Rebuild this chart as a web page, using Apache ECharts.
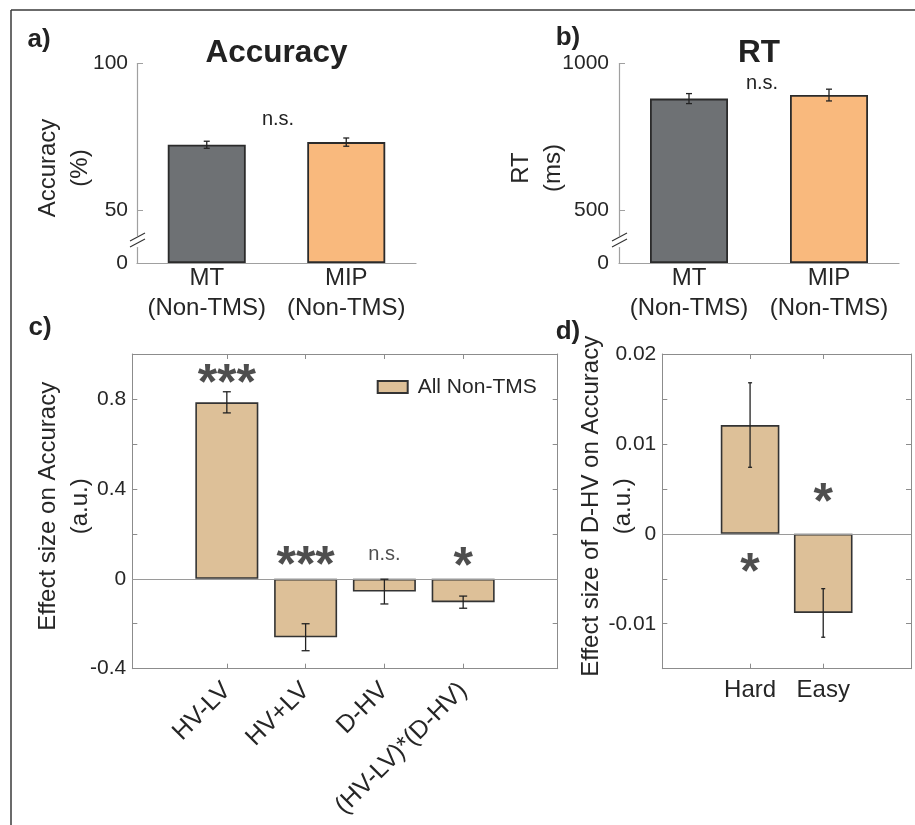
<!DOCTYPE html>
<html>
<head>
<meta charset="utf-8">
<script src="https://cdn.jsdelivr.net/npm/echarts@6.0.0/dist/echarts.min.js"></script>
<style>
  html, body { margin: 0; padding: 0; background: #fff; }
  #main { width: 915px; height: 825px; }
</style>
</head>
<body>
<div id="main"></div>
<script>
// data
var groupNames = ["MT\n(Non-TMS)", "MIP\n(Non-TMS)"];
var accMeans = [72.2, 73.1];
var accErrors = [1.2, 1.4];
var accTicks = [0, 50, 100];
var rtMeans = [879, 891];
var rtErrors = [17, 20];
var rtTicks = [0, 500, 1000];

var effectNames = ["HV-LV", "HV+LV", "D-HV", "(HV-LV)*(D-HV)"];
var effectMeans = [0.785, -0.26, -0.057, -0.104];
var effectErrors = [0.047, 0.06, 0.055, 0.027];
var effectSig = ["***", "***", "n.s.", "*"];
var effectSigY = [0.859, 0.05, 0.11, 0.046];
var effectTicks = [-0.4, 0, 0.4, 0.8];

var diffNames = ["Hard", "Easy"];
var diffMeans = [0.0121, -0.0088];
var diffErrors = [0.0047, 0.0027];
var diffSig = ["*", "*"];
var diffSigY = [-0.0045, 0.0033];
var diffTicks = [-0.01, 0, 0.01, 0.02];

var FONT = "'Liberation Sans', Arial, sans-serif";
var TXT = "#262626";
var groupColors = ["#6e7174", "#f9b97d"];
var TAN = "#ddc098";

var myChart = echarts.init(document.getElementById("main"));

function errorBars(capHalf) {
  return function (params, api) {
    var x = api.value(0), m = api.value(1), e = api.value(2);
    var top = api.coord([x, m + e]);
    var bot = api.coord([x, m - e]);
    var st = { stroke: "#222", lineWidth: 1.3 };
    return {
      type: "group",
      children: [
        { type: "line", shape: { x1: top[0], y1: top[1], x2: bot[0], y2: bot[1] }, style: st },
        { type: "line", shape: { x1: top[0] - capHalf, y1: top[1], x2: top[0] + capHalf, y2: top[1] }, style: st },
        { type: "line", shape: { x1: bot[0] - capHalf, y1: bot[1], x2: bot[0] + capHalf, y2: bot[1] }, style: st }
      ]
    };
  };
}

function pick(list) {
  return function (v) {
    for (var i = 0; i < list.length; i++) {
      if (Math.abs(list[i] - v) < 1e-9) return String(list[i]);
    }
    return "";
  };
}

// small double slash on the broken axes (a and b)
function breakMark(x) {
  return [
    { type: "rect", shape: { x: x - 3, y: 237.5, width: 6, height: 6 }, style: { fill: "#fff" }, z: 100 },
    { type: "line", shape: { x1: x - 7, y1: 241, x2: x + 8, y2: 233 }, style: { stroke: "#333", lineWidth: 1.1 }, z: 101 },
    { type: "line", shape: { x1: x - 7, y1: 247, x2: x + 8, y2: 239 }, style: { stroke: "#333", lineWidth: 1.1 }, z: 101 }
  ];
}

function label(x, y, text, size, weight) {
  return {
    type: "text", x: x, y: y, z: 100,
    style: { text: text, fontSize: size, fontWeight: weight || "normal", fontFamily: FONT, fill: "#222", align: "center", verticalAlign: "middle" }
  };
}

var grayAxis = { lineStyle: { color: "#a0a0a0", width: 1.2 } };
var boxLine = { onZero: false, lineStyle: { color: "#8c8c8c", width: 1 } };

function topBarAxis(grid, ticks, nameText, gap, breakCfg) {
  return {
    type: "value", gridIndex: grid, min: ticks[0], max: ticks[2],
    breaks: [breakCfg], breakArea: { show: false },
    axisLine: { show: true, lineStyle: grayAxis.lineStyle },
    axisTick: { show: true, inside: true, length: 6, customValues: ticks, lineStyle: { color: "#a0a0a0" } },
    axisLabel: { customValues: ticks, formatter: function (v) { return String(v); }, fontSize: 21, color: TXT, margin: gap.margin },
    splitLine: { show: false },
    name: nameText, nameLocation: "middle", nameRotate: 90, nameGap: gap.name, nameMoveOverlap: false,
    nameTextStyle: { fontSize: 24, lineHeight: 32, color: TXT, padding: [0, 10, 0, 0] }
  };
}

function boxY(grid, min, max, step, pos, labels, nameText, nameGap) {
  var ax = {
    type: "value", gridIndex: grid, position: pos, min: min, max: max, interval: step,
    axisLine: { show: true, onZero: false, lineStyle: boxLine.lineStyle },
    axisTick: { show: true, inside: true, length: 5, lineStyle: { color: "#8c8c8c" } },
    axisLabel: { show: !!labels, formatter: labels ? pick(labels) : "", fontSize: 21, color: TXT, margin: 6 },
    splitLine: { show: false }
  };
  if (nameText) {
    ax.name = nameText;
    ax.nameLocation = "middle";
    ax.nameRotate = 90;
    ax.nameGap = nameGap;
    ax.nameMoveOverlap = false;
    ax.nameTextStyle = { fontSize: 24, lineHeight: 32, color: TXT, padding: [0, 0, 0, 10] };
  }
  return ax;
}

function boxX(grid, min, max, names, pos, lab) {
  var idx = names.map(function (n, i) { return i; });
  return {
    type: "value", gridIndex: grid, position: pos, min: min, max: max,
    axisLine: { show: true, onZero: false, lineStyle: boxLine.lineStyle },
    axisTick: { show: true, inside: true, length: 5, customValues: idx, lineStyle: { color: "#8c8c8c" } },
    axisLabel: lab ? Object.assign({
      customValues: idx, color: TXT, fontSize: 24,
      formatter: function (v) { return names[Math.round(v)]; }
    }, lab) : { show: false },
    splitLine: { show: false }
  };
}

function sigSeries(xi, yi, texts, ys) {
  return {
    type: "scatter", xAxisIndex: xi, yAxisIndex: yi, symbolSize: 0, silent: true, z: 20,
    data: texts.map(function (t, i) {
      var ns = t === "n.s.";
      return {
        value: [i, ys[i]],
        label: {
          show: true, position: "inside", formatter: t, color: "#222",
          fontSize: ns ? 20 : 50, fontWeight: ns ? "normal" : "bold", fontFamily: FONT
        }
      };
    })
  };
}

var zeroLine = {
  silent: true, symbol: "none", label: { show: false },
  lineStyle: { color: "#9a9a9a", width: 1, type: "solid" },
  data: [{ yAxis: 0 }]
};

var groupLabel = { fontSize: 24, lineHeight: 30, color: TXT, margin: 0, interval: 0 };

var option = {
  animation: false,
  backgroundColor: "#fff",
  textStyle: { fontFamily: FONT },
  grid: [
    { left: 137, top: 63, width: 279, height: 200 },
    { left: 619, top: 63, width: 280, height: 200 },
    { left: 132.3, top: 354, width: 425.4, height: 314.7 },
    { left: 662.3, top: 354, width: 248.7, height: 314.7 }
  ],
  legend: {
    data: ["All Non-TMS"], left: 376.7, top: 375, padding: 0,
    itemWidth: 30, itemHeight: 12, icon: "rect", selectedMode: false,
    textStyle: { fontSize: 21, color: TXT, lineHeight: 24, padding: [0, 0, 0, 5] }
  },
  xAxis: [
    {
      type: "category", gridIndex: 0, data: groupNames,
      axisLine: grayAxis, axisTick: { show: false }, axisLabel: groupLabel
    },
    {
      type: "category", gridIndex: 1, data: groupNames,
      axisLine: grayAxis, axisTick: { show: false }, axisLabel: groupLabel
    },
    boxX(2, -1.2, 4.2, effectNames, "bottom", { rotate: 45, margin: 18, fontSize: 25 }),
    boxX(2, -1.2, 4.2, effectNames, "top", null),
    boxX(3, -1.2, 2.2, diffNames, "bottom", { margin: 10 }),
    boxX(3, -1.2, 2.2, diffNames, "top", null)
  ],
  yAxis: [
    topBarAxis(0, accTicks, "Accuracy\n(%)", { margin: 9, name: 41 }, { start: 5.5, end: 41.5, gap: 4 }),
    topBarAxis(1, rtTicks, "RT\n(ms)", { margin: 10, name: 50 }, { start: 55, end: 415, gap: 40 }),
    boxY(2, -0.4, 1.0, 0.2, "left", effectTicks, "Effect size on Accuracy\n(a.u.)", 36),
    boxY(2, -0.4, 1.0, 0.2, "right", null),
    boxY(3, -0.015, 0.02, 0.005, "left", diffTicks, "Effect size of D-HV on Accuracy\n(a.u.)", 23),
    boxY(3, -0.015, 0.02, 0.005, "right", null)
  ],
  series: [
    {
      type: "bar", xAxisIndex: 0, yAxisIndex: 0, barWidth: 78,
      itemStyle: { borderColor: "#2b2b2b", borderWidth: 1.8 },
      data: accMeans.map(function (v, i) { return { value: v, itemStyle: { color: groupColors[i] } }; })
    },
    {
      type: "custom", xAxisIndex: 0, yAxisIndex: 0, z: 10,
      renderItem: errorBars(3), encode: { x: 0, y: 1 },
      data: accMeans.map(function (v, i) { return [i, v, accErrors[i]]; })
    },
    {
      type: "bar", xAxisIndex: 1, yAxisIndex: 1, barWidth: 78,
      itemStyle: { borderColor: "#2b2b2b", borderWidth: 1.8 },
      data: rtMeans.map(function (v, i) { return { value: v, itemStyle: { color: groupColors[i] } }; })
    },
    {
      type: "custom", xAxisIndex: 1, yAxisIndex: 1, z: 10,
      renderItem: errorBars(3), encode: { x: 0, y: 1 },
      data: rtMeans.map(function (v, i) { return [i, v, rtErrors[i]]; })
    },
    {
      name: "All Non-TMS", type: "bar", xAxisIndex: 2, yAxisIndex: 2, barWidth: 63,
      itemStyle: { color: TAN, borderColor: "#333", borderWidth: 1.6 },
      markLine: zeroLine,
      data: effectMeans.map(function (v, i) { return [i, v]; })
    },
    {
      type: "custom", xAxisIndex: 2, yAxisIndex: 2, z: 10,
      renderItem: errorBars(4), encode: { x: 0, y: 1 },
      data: effectMeans.map(function (v, i) { return [i, v, effectErrors[i]]; })
    },
    sigSeries(2, 2, effectSig, effectSigY),
    {
      name: "diff", type: "bar", xAxisIndex: 4, yAxisIndex: 4, barWidth: 58.6,
      itemStyle: { color: TAN, borderColor: "#333", borderWidth: 1.6 },
      markLine: zeroLine,
      data: diffMeans.map(function (v, i) { return [i, v]; })
    },
    {
      type: "custom", xAxisIndex: 4, yAxisIndex: 4, z: 10,
      renderItem: errorBars(2), encode: { x: 0, y: 1 },
      data: diffMeans.map(function (v, i) { return [i, v, diffErrors[i]]; })
    },
    sigSeries(4, 4, diffSig, diffSigY)
  ],
  graphic: [
    // outer frame (only top and left edges are in view)
    { type: "line", shape: { x1: 11, y1: 10, x2: 915, y2: 10 }, style: { stroke: "#3a3a3a", lineWidth: 1.5 } },
    { type: "line", shape: { x1: 11, y1: 10, x2: 11, y2: 825 }, style: { stroke: "#3a3a3a", lineWidth: 1.5 } },
    label(39, 40, "a)", 26, "bold"),
    label(568, 38, "b)", 26, "bold"),
    label(40, 328, "c)", 26, "bold"),
    label(568, 332, "d)", 26, "bold"),
    label(276.5, 53, "Accuracy", 31.5, "bold"),
    label(759, 53, "RT", 31.5, "bold"),
    label(278, 119, "n.s.", 20),
    label(762, 83, "n.s.", 20)
  ].concat(breakMark(137), breakMark(619))
};

myChart.setOption(option);
</script>
</body>
</html>
